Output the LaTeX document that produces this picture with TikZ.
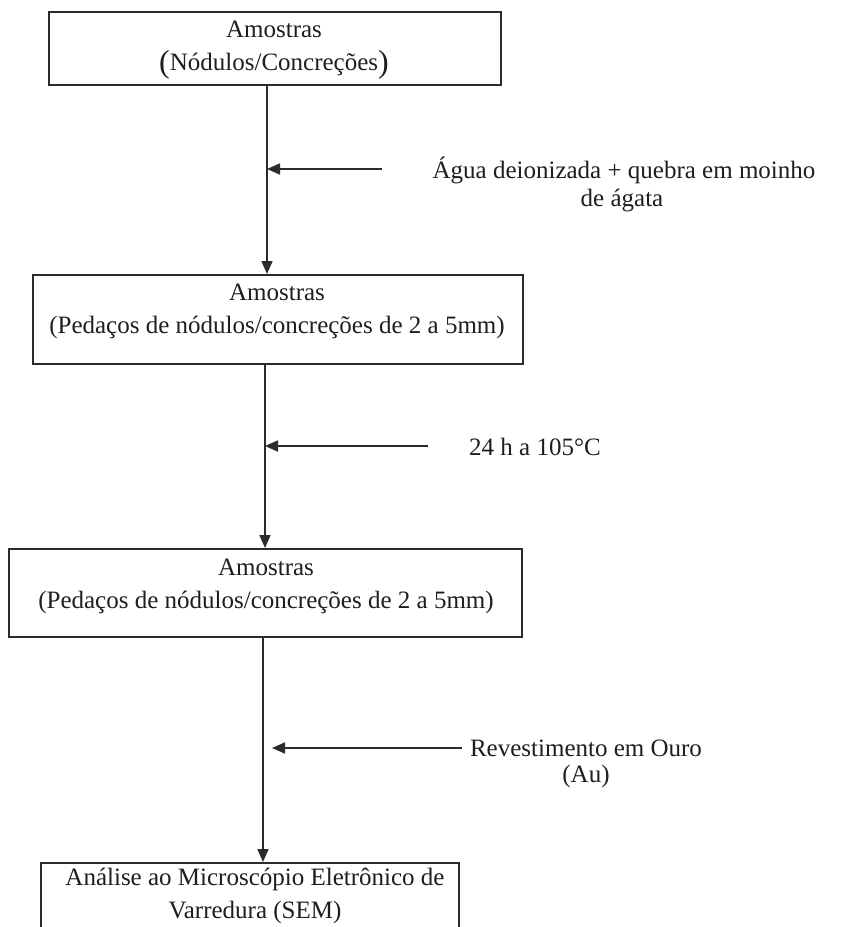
\documentclass[tikz,border=0pt]{standalone}
\usepackage{fontspec}
\setmainfont{Liberation Serif}
\usetikzlibrary{arrows.meta}
\definecolor{ink}{HTML}{2B2B2B}
\definecolor{txtc}{HTML}{1E1E1E}
\tikzset{
  box/.style={draw=ink, line width=1.7pt, rectangle, inner sep=0pt, anchor=north west},
  conn/.style={draw=ink, line width=1.7pt, -{Triangle[length=13pt,width=11pt]}},
  lbl/.style={text=txtc, inner sep=0pt, anchor=base, font=\fontsize{25}{30}\selectfont},
}
\newcommand{\bigpar}[1]{\raisebox{-2.5pt}{\fontsize{32}{32}\selectfont #1}}
\begin{document}
\begin{tikzpicture}[x=1pt,y=-1pt]
\useasboundingbox (0,0) rectangle (854,927);
\clip (0,0) rectangle (854,927);
\fill[white] (0,0) rectangle (854,927);
% boxes
\node[box, minimum width=452pt, minimum height=73pt] (b1) at (48,11) {};
\node[box, minimum width=490pt, minimum height=89pt] (b2) at (32,274) {};
\node[box, minimum width=513pt, minimum height=88pt] (b3) at (8,548) {};
\node[box, minimum width=418pt, minimum height=110pt] (b4) at (40,862) {};
% box texts
\node[lbl] (t1a) at (274,37) {Amostras};
\node[lbl] (t1b) at (274,70) {\bigpar{(}Nódulos/Concreções\bigpar{)}};
\node[lbl] (t2a) at (277,300) {Amostras};
\node[lbl] (t2b) at (277,333) {(Pedaços de nódulos/concreções de 2 a 5mm)};
\node[lbl] (t3a) at (266,575) {Amostras};
\node[lbl] (t3b) at (266,608) {(Pedaços de nódulos/concreções de 2 a 5mm)};
\node[lbl] (t4a) at (255,885) {Análise ao Microscópio Eletrônico de};
\node[lbl] (t4b) at (255,918) {Varredura (SEM)};
% side labels
\node[lbl] (s1a) at (624,178) {Água deionizada + quebra em moinho};
\node[lbl] (s1b) at (622,206) {de ágata};
\node[lbl, anchor=base west] (s2) at (469,455) {24 h a 105°C};
\node[lbl] (s3a) at (586,756) {Revestimento em Ouro};
\node[lbl] (s3b) at (586,782) {(Au)};
% connector coordinates
\coordinate (v1) at (267,0);
\coordinate (v2) at (265,0);
\coordinate (v3) at (263,0);
\coordinate (h1s) at (382,169);
\coordinate (h1e) at (267,169);
\coordinate (h2s) at (428,446);
\coordinate (h2e) at (265,446);
\coordinate (h3s) at (462,748);
\coordinate (h3e) at (272,748);
% vertical flow
\draw[conn] (b1.south -| v1) -- (b2.north -| v1);
\draw[conn] (b2.south -| v2) -- (b3.north -| v2);
\draw[conn] (b3.south -| v3) -- (b4.north -| v3);
% side inputs
\draw[conn] (h1s) -- (h1e);
\draw[conn] (h2s) -- (h2e);
\draw[conn] (h3s) -- (h3e);
\end{tikzpicture}
\end{document}
